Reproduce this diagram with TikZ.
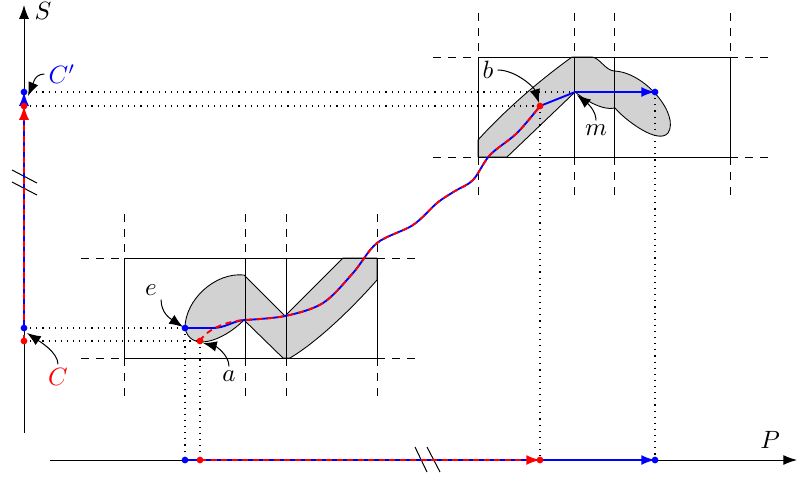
\documentclass[tikz,border=0pt]{standalone}
\usetikzlibrary{arrows.meta}
\begin{document}
\begin{tikzpicture}[x=0.4pt,y=-0.4pt,
  ax/.style={line width=0.4pt},
  dotline/.style={dotted, line width=0.45pt},
  ext/.style={dashed, line width=0.4pt},
  boxline/.style={line width=0.4pt},
  shade/.style={fill=gray!35, draw=black, line width=0.35pt},
  bpath/.style={blue, line width=0.75pt},
  rpath/.style={red, line width=0.75pt, dash pattern=on 2.4pt off 1.8pt},
  ctip/.style={-{Latex[length=5.5pt,width=4pt]}},
  ann/.style={-{Latex[length=5.5pt,width=4.2pt]}, line width=0.4pt},
  bdot/.style={fill=blue},
  rdot/.style={fill=red},
  lab/.style={inner sep=1.5pt},
]
\useasboundingbox (0,0) rectangle (798,476);

% points
\coordinate (Ce) at (24,328);
\coordinate (Ca) at (24,341);
\coordinate (Cpb) at (24,92);
\coordinate (Cpr) at (24,106);
\coordinate (e) at (185,328);
\coordinate (a) at (200,341);
\coordinate (b) at (540,106);
\coordinate (m) at (575,92);
\coordinate (f) at (655,92);
\coordinate (Pe) at (185,460);
\coordinate (Pa) at (200,460);
\coordinate (Pb) at (540,460);
\coordinate (Pf) at (655,460);
\coordinate (tCp) at (28,96);
\coordinate (tC) at (27,333);
\coordinate (te) at (183,327);
\coordinate (ta) at (203,343);
\coordinate (tb) at (539,103);
\coordinate (tm) at (577,95);

% gray shapes
\draw[shade] (244,275) -- (285,316) -- (343,258) -- (377,258) -- (377,280)
  .. controls (355,305) and (320,340) .. (290,358) -- (283,358) -- (244,320)
  .. controls (222,342) and (190,352) .. (185,328)
  .. controls (185,300) and (215,272) .. (244,275) -- cycle;
\draw[shade] (478,140) .. controls (505,110) and (540,80) .. (572,57) -- (592,57)
  .. controls (600,58) and (605,70) .. (614,71)
  .. controls (645,72) and (680,115) .. (668,133)
  .. controls (658,145) and (625,120) .. (615,108)
  .. controls (603,111) and (585,100) .. (575,92) -- (507,157) -- (478,157) -- cycle;

% lower box
\draw[boxline] (124,258) rectangle (377,358);
\draw[boxline] (245,258) -- (245,358);
\draw[boxline] (286,258) -- (286,358);
\foreach \x in {124,245,286,377} {
  \draw[ext] (\x,214) -- (\x,258);
  \draw[ext] (\x,358) -- (\x,402);
}
\foreach \y in {258,358} {
  \draw[ext] (81,\y) -- (124,\y);
  \draw[ext] (377,\y) -- (422,\y);
}

% upper box
\draw[boxline] (478,57) rectangle (730,157);
\draw[boxline] (574,57) -- (574,157);
\draw[boxline] (614,57) -- (614,157);
\foreach \x in {478,574,614,730} {
  \draw[ext] (\x,13) -- (\x,57);
  \draw[ext] (\x,157) -- (\x,202);
}
\foreach \y in {57,157} {
  \draw[ext] (433,\y) -- (478,\y);
  \draw[ext] (730,\y) -- (773,\y);
}

% axes
\draw[ax,-{Latex[length=5.5pt,width=4pt]}] (24,433) -- (24,5);
\draw[ax,-{Latex[length=5.5pt,width=4pt]}] (50,460) -- (797,460);
\node[lab] (lS) at (43,11) {$S$};
\node[lab] (lP) at (770,440) {$P$};

% break marks
\draw[ax] (12,170) -- (37,183);
\draw[ax] (12,182) -- (37,195);
\draw[ax] (415,447) -- (427,472);
\draw[ax] (427,447) -- (440,472);

% dotted projections
\draw[dotline] (Cpb) -- (m);
\draw[dotline] (Cpr) -- (b);
\draw[dotline] (Ce) -- (e);
\draw[dotline] (Ca) -- (a);
\draw[dotline] (e) -- (Pe);
\draw[dotline] (a) -- (Pa);
\draw[dotline] (b) -- (Pb);
\draw[dotline] (f) -- (Pf);

% coloured segments on axes
\draw[bpath,ctip] (Ce) -- (Cpb);
\draw[rpath,ctip] (Ca) -- (Cpr);
\draw[bpath,ctip] (Pe) -- (Pf);
\draw[rpath,ctip] (Pa) -- (Pb);

% trajectories
\def\wave{(244,320) (285,316) (323,303) (353,273) (377,243) (413,225) (437,203) (455,191) (473,180) (490,155) (517,133) (540,106)}
\draw[bpath,ctip] (e) -- (213,328) .. controls (225,328) and (233,321) .. (244,320)
  -- plot[smooth,tension=0.55] coordinates {\wave}
  -- (m) -- (f);
\draw[rpath] (a) .. controls (204,333) and (220,322) .. (244,320)
  -- plot[smooth,tension=0.55] coordinates {\wave};

% dots
\foreach \p in {Ce,Cpb,e,f,Pe,Pf} \fill[bdot] (\p) circle (1.35pt);
\foreach \p in {Ca,Cpr,a,b,Pa,Pb} \fill[rdot] (\p) circle (1.35pt);

% labels
\node[lab,text=blue] (lCp) at (62,74) {$C'$};
\node[lab,text=red] (lC) at (58,377) {$C$};
\node[lab] (le) at (151,290) {$e$};
\node[lab] (la) at (229,376) {$a$};
\node[lab] (lb) at (488,70) {$b$};
\node[lab] (lm) at (596,130) {$m$};

% annotation arrows
\draw[ann] (lCp.west) .. controls +(-10,0) and +(5,-12) .. (tCp);
\draw[ann] (lC.north) .. controls +(0,-12) and +(12,8) .. (tC);
\draw[ann] (le.south east) .. controls +(0,14) and +(-12,-8) .. (te);
\draw[ann] (la.north) .. controls +(0,-12) and +(12,3) .. (ta);
\draw[ann] (lb.east) .. controls +(18,0) and +(-5,-16) .. (tb);
\draw[ann] (lm.north) .. controls +(0,-10) and +(10,8) .. (tm);
\end{tikzpicture}
\end{document}
